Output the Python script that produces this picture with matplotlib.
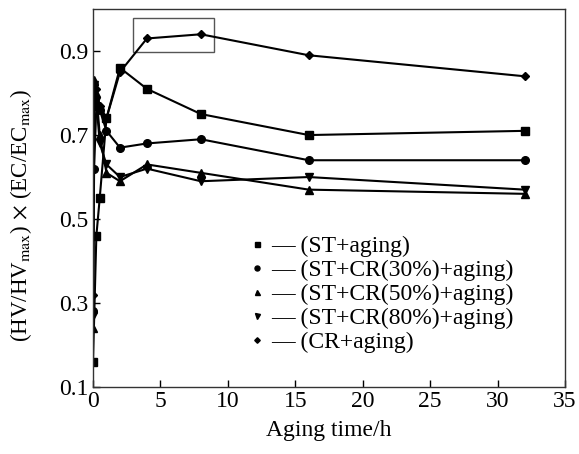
import matplotlib
matplotlib.use("Agg")
import matplotlib.pyplot as plt
from matplotlib.lines import Line2D
from matplotlib.patches import Rectangle

plt.rcParams['font.family'] = ['Liberation Serif', 'DejaVu Serif']
plt.rcParams['mathtext.fontset'] = 'stix'

t_sq = [0, 0.25, 0.5, 1, 2, 4, 8, 16, 32]
st_aging = [0.16, 0.46, 0.55, 0.74, 0.86, 0.81, 0.75, 0.70, 0.71]

t = [0, 0.083, 0.25, 0.5, 1, 2, 4, 8, 16, 32]
st_cr30 = [0.28, 0.62, 0.77, 0.76, 0.71, 0.67, 0.68, 0.69, 0.64, 0.64]
st_cr50 = [0.24, 0.83, 0.80, 0.70, 0.61, 0.59, 0.63, 0.61, 0.57, 0.56]
st_cr80 = [0.27, 0.82, 0.78, 0.68, 0.63, 0.60, 0.62, 0.59, 0.60, 0.57]
cr_aging = [0.32, 0.82, 0.81, 0.77, 0.74, 0.85, 0.93, 0.94, 0.89, 0.84]

labels = ["(ST+aging)", "(ST+CR(30%)+aging)", "(ST+CR(50%)+aging)",
          "(ST+CR(80%)+aging)", "(CR+aging)"]
xticks = [0, 5, 10, 15, 20, 25, 30, 35]
yticks = [0.1, 0.3, 0.5, 0.7, 0.9]

fig = plt.figure(figsize=(5.79, 4.54), dpi=100)
ax = fig.add_axes([0.1606, 0.1476, 0.8152, 0.8324])

series = [(t_sq, st_aging, 's', 5.2, 3.6), (t, st_cr30, 'o', 5.5, 3.6),
          (t, st_cr50, '^', 5.5, 3.6), (t, st_cr80, 'v', 5.5, 3.6),
          (t, cr_aging, 'D', 3.8, 2.8)]
for (xx, yy, m, ms, lms) in series:
    ax.plot(xx, yy, color='black', lw=1.5, marker=m, markersize=ms)

ax.add_patch(Rectangle((2.98, 0.898), 5.96, 0.081, fill=False, edgecolor='#555555', lw=1.0))

ax.set_xlim(0, 35)
ax.set_ylim(0.1, 1.0)
ax.set_xticks(xticks)
ax.set_yticks(yticks)
ax.set_xticklabels([str(v) for v in xticks])
ax.set_yticklabels([f"{v:.1f}" for v in yticks])
ax.tick_params(direction='in', labelsize=17, length=5, width=1, pad=3)
for s in ax.spines.values():
    s.set_linewidth(1.0)
    s.set_color('#333333')

ax.set_xlabel("Aging time/h", fontsize=17, labelpad=6)
ax.set_ylabel(r"(HV/HV$_{\mathrm{max}}$)$\,\times\,$(EC/EC$_{\mathrm{max}}$)", fontsize=16.5)
ax.yaxis.set_label_coords(-0.125, 0.455)

handles = [Line2D([], [], color='black', marker=m, linestyle='none', markersize=lms)
           for (_, _, m, ms, lms) in series]
leg = ax.legend(handles, ["— " + l for l in labels], loc='upper left',
                bbox_to_anchor=(0.335, 0.40), frameon=False, fontsize=17,
                handlelength=0.5, handletextpad=0.35, labelspacing=0.1,
                borderpad=0, borderaxespad=0)

fig.savefig("out.png", dpi=100)
